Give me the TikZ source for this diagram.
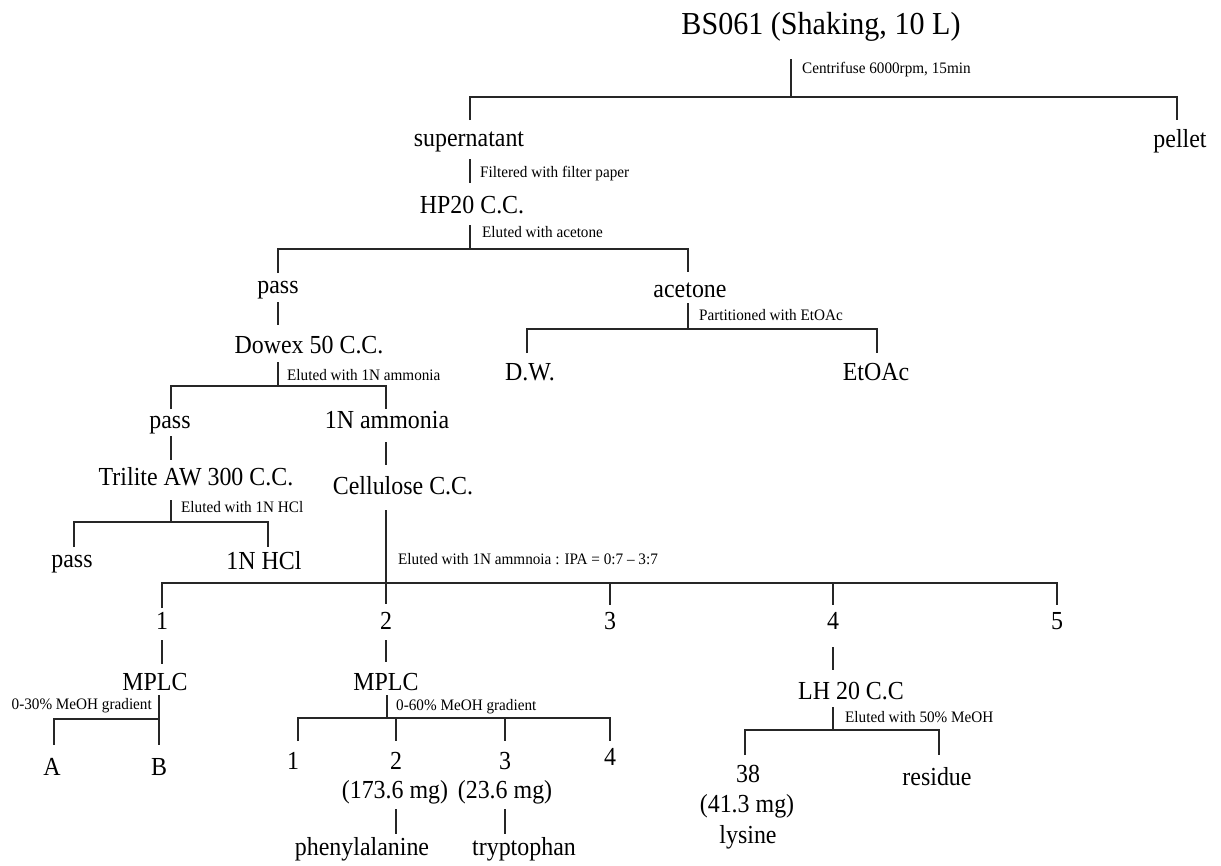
\documentclass[tikz,border=0pt]{standalone}
\usepackage{fontspec}
\setmainfont{Liberation Serif}
\newfontfamily\mainf{Liberation Serif}[FakeStretch=0.92]
\newfontfamily\titlef{Liberation Serif}[FakeStretch=0.94]
\newfontfamily\notef{Liberation Serif}[FakeStretch=0.95]
\begin{document}
\begin{tikzpicture}[x=1pt,y=-1pt,
  lbl/.style={inner sep=0pt,anchor=base,font=\mainf\fontsize{26}{30}\selectfont},
  big/.style={inner sep=0pt,anchor=base,font=\titlef\fontsize{32}{36}\selectfont},
  note/.style={inner sep=0pt,anchor=base west,font=\notef\fontsize{16}{19}\selectfont},
  notel/.style={inner sep=0pt,anchor=base east,font=\notef\fontsize{16}{19}\selectfont},
  ln/.style={draw=black!85,line width=1.2pt}]
\useasboundingbox (0,0) rectangle (1221,865);

% ---------- text nodes ----------
\node[big] (title) at (821,34) {BS061 (Shaking, 10 L)};
\node[note] (n1) at (802,73) {Centrifuse 6000rpm, 15min};
\node[lbl] (sup) at (469,146) {supernatant};
\node[lbl] (pel) at (1180,147) {pellet};
\node[note] (n2) at (480,177) {Filtered with filter paper};
\node[lbl] (hp) at (472,213) {HP20 C.C.};
\node[note] (n3) at (482,237) {Eluted with acetone};
\node[lbl] (pass1) at (278,293) {pass};
\node[lbl] (ace) at (690,297) {acetone};
\node[note] (n4) at (699,320) {Partitioned with EtOAc};
\node[lbl] (dw) at (530,380) {D.W.};
\node[lbl] (etoac) at (876,380) {EtOAc};
\node[lbl] (dow) at (309,353) {Dowex 50 C.C.};
\node[note] (n5) at (287,380) {Eluted with 1N ammonia};
\node[lbl] (pass2) at (170,428) {pass};
\node[lbl] (amm) at (387,428) {1N ammonia};
\node[lbl] (tri) at (196,485) {Trilite AW 300 C.C.};
\node[lbl] (cel) at (403,494) {Cellulose C.C.};
\node[note] (n6) at (181,512) {Eluted with 1N HCl};
\node[lbl] (pass3) at (72,567) {pass};
\node[lbl] (hcl) at (264,569) {1N HCl};
\node[note] (n7) at (398,564) {Eluted with 1N ammnoia : IPA = 0:7 – 3:7};
\node[lbl] (f1) at (162,629) {1};
\node[lbl] (f2) at (386,629) {2};
\node[lbl] (f3) at (610,629) {3};
\node[lbl] (f4) at (833,629) {4};
\node[lbl] (f5) at (1057,629) {5};
\node[lbl] (mp1) at (155,690) {MPLC};
\node[lbl] (mp2) at (386,690) {MPLC};
\node[lbl] (lh) at (851,699) {LH 20 C.C};
\node[notel] (n8) at (152,709) {0-30\% MeOH gradient};
\node[note] (n9) at (396,710) {0-60\% MeOH gradient};
\node[note] (n10) at (845,722) {Eluted with 50\% MeOH};
\node[lbl] (a) at (52,775) {A};
\node[lbl] (b) at (159,775) {B};
\node[lbl] (s1) at (293,769) {1};
\node[lbl] (s2) at (396,769) {2};
\node[lbl] (s3) at (505,769) {3};
\node[lbl] (s4) at (610,765) {4};
\node[lbl] (m2) at (395,798) {(173.6 mg)};
\node[lbl] (m3) at (505,798) {(23.6 mg)};
\node[lbl] (phe) at (362,855) {phenylalanine};
\node[lbl] (trp) at (524,855) {tryptophan};
\node[lbl] (c38) at (748,782) {38};
\node[lbl] (m38) at (747,812) {(41.3 mg)};
\node[lbl] (lys) at (748,843) {lysine};
\node[lbl] (res) at (937,785) {residue};

% ---------- connectors ----------
% BS061
\coordinate (t0) at (791,59); \coordinate (j0) at (791,97);
\coordinate (l0) at (470,97); \coordinate (r0) at (1177,97);
\coordinate (supT) at (470,120); \coordinate (pelT) at (1177,120);
\draw[ln] (t0) -- (j0);
\draw[ln] (supT) -- (l0) -- (r0) -- (pelT);
% supernatant -> HP20
\coordinate (supB) at (470,159); \coordinate (hpT) at (470,183);
\draw[ln] (supB) -- (hpT);
% HP20
\coordinate (hpB) at (470,225); \coordinate (j1) at (470,249);
\coordinate (l1) at (278,249); \coordinate (r1) at (688,249);
\coordinate (p1T) at (278,273); \coordinate (aceT) at (688,272);
\draw[ln] (hpB) -- (j1);
\draw[ln] (p1T) -- (l1) -- (r1) -- (aceT);
% acetone
\coordinate (aceB) at (688,303); \coordinate (j2) at (688,329);
\coordinate (l2) at (527,329); \coordinate (r2) at (877,329);
\coordinate (dwT) at (527,353); \coordinate (etT) at (877,353);
\draw[ln] (aceB) -- (j2);
\draw[ln] (dwT) -- (l2) -- (r2) -- (etT);
% pass -> Dowex
\coordinate (p1B) at (278,302); \coordinate (dowT) at (278,325);
\draw[ln] (p1B) -- (dowT);
% Dowex
\coordinate (dowB) at (278,362); \coordinate (j3) at (278,386);
\coordinate (l3) at (171,386); \coordinate (r3) at (386,386);
\coordinate (p2T) at (171,409); \coordinate (ammT) at (386,409);
\draw[ln] (dowB) -- (j3);
\draw[ln] (p2T) -- (l3) -- (r3) -- (ammT);
% pass -> Trilite, 1N ammonia -> Cellulose
\coordinate (p2B) at (171,436); \coordinate (triT) at (171,460);
\draw[ln] (p2B) -- (triT);
\coordinate (ammB) at (386,442); \coordinate (celT) at (386,465);
\draw[ln] (ammB) -- (celT);
% Trilite
\coordinate (triB) at (171,500); \coordinate (j4) at (171,522);
\coordinate (l4) at (74,522); \coordinate (r4) at (268,522);
\coordinate (p3T) at (74,547); \coordinate (hclT) at (268,547);
\draw[ln] (triB) -- (j4);
\draw[ln] (p3T) -- (l4) -- (r4) -- (hclT);
% Cellulose
\coordinate (celB) at (386,510); \coordinate (f2T) at (386,604);
\coordinate (l5) at (162,583); \coordinate (r5) at (1057,583);
\coordinate (j5c) at (610,583); \coordinate (j5d) at (833,583);
\coordinate (f1T) at (162,608); \coordinate (f3T) at (610,605);
\coordinate (f4T) at (833,605); \coordinate (f5T) at (1057,605);
\draw[ln] (celB) -- (f2T);
\draw[ln] (f1T) -- (l5) -- (r5) -- (f5T);
\draw[ln] (j5c) -- (f3T);
\draw[ln] (j5d) -- (f4T);
% fractions -> MPLC / LH20
\coordinate (f1B) at (162,640); \coordinate (mp1T) at (162,664);
\draw[ln] (f1B) -- (mp1T);
\coordinate (f2B) at (386,640); \coordinate (mp2T) at (386,662);
\draw[ln] (f2B) -- (mp2T);
\coordinate (f4B) at (833,647); \coordinate (lhT) at (833,670);
\draw[ln] (f4B) -- (lhT);
% MPLC left
\coordinate (mp1B) at (159,695); \coordinate (bT) at (159,745);
\coordinate (j6) at (159,719); \coordinate (l6) at (54,719);
\coordinate (aT) at (54,745);
\draw[ln] (mp1B) -- (bT);
\draw[ln] (j6) -- (l6) -- (aT);
% MPLC 2
\coordinate (mp2B) at (387,695); \coordinate (j7) at (387,718);
\coordinate (l7) at (298,718); \coordinate (r7) at (610,718);
\coordinate (j7b) at (396,718); \coordinate (j7c) at (505,718);
\coordinate (s1T) at (298,741); \coordinate (s2T) at (396,741);
\coordinate (s3T) at (505,741); \coordinate (s4T) at (610,741);
\draw[ln] (mp2B) -- (j7);
\draw[ln] (s1T) -- (l7) -- (r7) -- (s4T);
\draw[ln] (j7b) -- (s2T);
\draw[ln] (j7c) -- (s3T);
\coordinate (m2B) at (396,809); \coordinate (pheT) at (396,834);
\draw[ln] (m2B) -- (pheT);
\coordinate (m3B) at (505,809); \coordinate (trpT) at (505,834);
\draw[ln] (m3B) -- (trpT);
% LH 20
\coordinate (lhB) at (833,707); \coordinate (j8) at (833,730);
\coordinate (l8) at (745,730); \coordinate (r8) at (939,730);
\coordinate (c38T) at (745,755); \coordinate (resT) at (939,755);
\draw[ln] (lhB) -- (j8);
\draw[ln] (c38T) -- (l8) -- (r8) -- (resT);
\end{tikzpicture}
\end{document}
